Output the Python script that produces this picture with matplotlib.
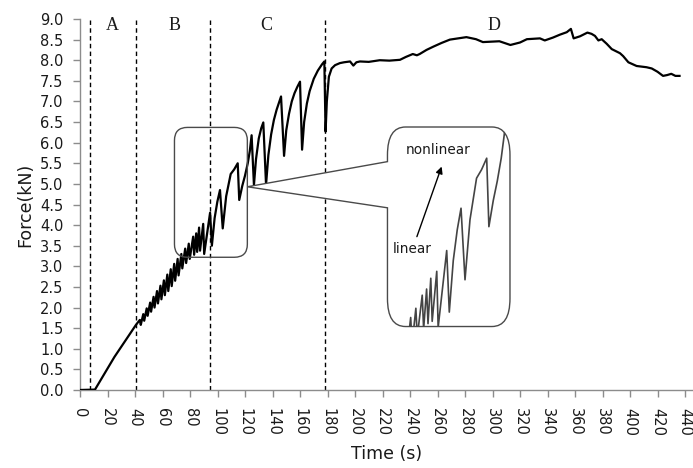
import numpy as np
import matplotlib
matplotlib.use('Agg')
import matplotlib.pyplot as plt
from matplotlib.path import Path
from matplotlib.patches import PathPatch

# ---------------- data ----------------
# Region A: idle, then linear ramp
time_A = [0.0, 10.9, 25.0, 40.7]
force_A = [0.0, 0.01, 0.80, 1.58]

# Region B: small load/unload cycles (peak, trough alternating)
time_B = [43.5, 44.2, 46.0, 46.7, 48.5, 49.2, 51.0, 51.7, 53.5, 54.2,
          56.0, 56.7, 58.5, 59.2, 61.0, 61.7, 63.5, 64.2, 66.0, 66.7,
          68.5, 69.2, 71.0, 71.7, 73.7, 74.4, 76.5, 77.2, 79.1, 79.8,
          82.3, 83.0, 84.5, 85.2, 86.6, 87.3, 89.6, 90.3, 94.6, 95.9]
force_B = [1.70, 1.58, 1.84, 1.68, 1.98, 1.80, 2.12, 1.90, 2.26, 2.00,
           2.40, 2.10, 2.53, 2.20, 2.66, 2.30, 2.80, 2.40, 2.93, 2.52,
           3.06, 2.65, 3.18, 2.78, 3.30, 2.95, 3.43, 3.08, 3.55, 3.18,
           3.72, 3.28, 3.80, 3.35, 3.94, 3.38, 4.03, 3.30, 4.30, 3.50]

# Region C: large load/unload cycles
time_C = [97.9, 99.9, 101.8, 103.8, 106.3, 109.6, 112.1, 114.7, 115.8,
          118.0, 120.0, 122.0, 123.5, 124.8, 126.5, 128.0, 130.0, 131.8,
          133.3, 135.3, 137.0, 139.0, 141.0, 143.0, 145.0, 146.2, 148.4,
          150.0, 152.0, 154.0, 156.0, 158.0, 160.0, 161.5, 163.0, 165.0,
          167.0, 170.0, 173.0, 176.0, 177.7, 178.6]
force_C = [4.17, 4.57, 4.85, 3.92, 4.70, 5.24, 5.35, 5.50, 4.61,
           4.95, 5.20, 5.50, 5.80, 6.18, 4.97, 5.60, 6.10, 6.35,
           6.49, 4.98, 5.70, 6.20, 6.55, 6.80, 7.00, 7.12, 5.68,
           6.30, 6.70, 7.00, 7.20, 7.35, 7.48, 5.83, 6.50, 6.95,
           7.25, 7.55, 7.75, 7.90, 7.97, 6.27]

# Region D: plateau
time_D = [179.5, 181.0, 183.0, 185.5, 189.0, 192.0, 196.4, 198.8, 201.0,
          203.6, 210.0, 218.0, 225.0, 232.7, 237.0, 242.0, 245.0, 247.0,
          252.0, 257.0, 263.0, 269.0, 275.0, 281.0, 288.0, 293.0, 299.0,
          305.0, 313.0, 320.0, 325.0, 334.5, 338.0, 344.0, 349.0, 354.0,
          357.0, 359.0, 363.6, 369.0, 372.0, 374.5, 377.0, 379.4, 383.0,
          386.7, 392.7, 395.0, 398.8, 404.8, 412.0, 415.8, 420.0, 424.0,
          427.0, 430.0, 433.0, 436.0]
force_D = [7.00, 7.60, 7.80, 7.88, 7.93, 7.95, 7.97, 7.87, 7.95,
           7.97, 7.96, 8.00, 7.99, 8.01, 8.08, 8.15, 8.12, 8.15,
           8.25, 8.33, 8.42, 8.50, 8.53, 8.56, 8.51, 8.44, 8.45,
           8.46, 8.37, 8.43, 8.51, 8.53, 8.48, 8.55, 8.62, 8.68,
           8.76, 8.53, 8.58, 8.67, 8.64, 8.59, 8.48, 8.51, 8.40,
           8.27, 8.17, 8.10, 7.95, 7.86, 7.83, 7.80, 7.72, 7.62,
           7.64, 7.67, 7.62, 7.62]

stage_bounds = [7.5, 40.7, 94.5, 178.0]
stage_labels = ['A', 'B', 'C', 'D']
stage_label_x = [23.7, 68.4, 135.8, 301.0]

x_ticks = list(range(0, 441, 20))
y_ticks = [i * 0.5 for i in range(19)]

time = np.array(time_A + time_B + time_C + time_D)
force = np.array(force_A + force_B + force_C + force_D)

# ---------------- figure ----------------
W, H = 693, 468
fig = plt.figure(figsize=(W / 100, H / 100), dpi=100)
ax = fig.add_axes([80 / W, 1 - 390 / H, (W - 80) / W, (390 - 19) / H])
ax.set_xlim(0, 445.8)
ax.set_ylim(0, 9.0)

gray = '#8c8c8c'
for s in ['top', 'right']:
    ax.spines[s].set_visible(False)
for s in ['left', 'bottom']:
    ax.spines[s].set_color(gray)
    ax.spines[s].set_linewidth(1.0)

ax.set_xticks(x_ticks)
ax.set_yticks(y_ticks)
ax.set_yticklabels(['%.1f' % v for v in y_ticks])
ax.set_xticklabels([str(v) for v in x_ticks], rotation=-90)
ax.tick_params(axis='both', colors=gray, labelcolor='#1a1a1a',
               labelsize=10.5, length=5, width=1.0, direction='out')
ax.tick_params(axis='y', pad=7)
ax.tick_params(axis='x', pad=8)
for lab in ax.get_xticklabels():
    lab.set_verticalalignment('top')

ax.set_xlabel('Time (s)', fontsize=12.5, color='#1a1a1a', labelpad=6)
ax.set_ylabel('Force(kN)', fontsize=12.5, color='#1a1a1a', labelpad=4)

# main curve
ax.plot(time, force, color='black', lw=1.6, zorder=3, solid_joinstyle='round')

# stage boundaries
for xb in stage_bounds:
    ax.axvline(xb, color='black', lw=1.0, ls=(0, (3.2, 2.4)), zorder=2)
for lab, xl in zip(stage_labels, stage_label_x):
    ax.text(xl, 8.84, lab, ha='center', va='center', fontsize=13,
            family='Liberation Serif', color='#1a1a1a')


def rounded_path(x0, y0, x1, y1, rx, ry, gap=None, tip=None):
    verts = [(x0, y1 - ry)]
    codes = [Path.MOVETO]
    if gap is not None:
        verts += [(x0, gap[1]), tip, (x0, gap[0])]
        codes += [Path.LINETO] * 3
    verts += [(x0, y0 + ry), (x0, y0), (x0 + rx, y0),
              (x1 - rx, y0), (x1, y0), (x1, y0 + ry),
              (x1, y1 - ry), (x1, y1), (x1 - rx, y1),
              (x0 + rx, y1), (x0, y1), (x0, y1 - ry),
              (x0, y1 - ry)]
    codes += [Path.LINETO, Path.CURVE3, Path.CURVE3,
              Path.LINETO, Path.CURVE3, Path.CURVE3,
              Path.LINETO, Path.CURVE3, Path.CURVE3,
              Path.LINETO, Path.CURVE3, Path.CURVE3,
              Path.CLOSEPOLY]
    return Path(verts, codes)


px_x = 1.375   # pixels per second
px_y = 41.2    # pixels per kN
box_col = '#4a4a4a'

# small window around the transition
small = rounded_path(68.7, 3.22, 121.7, 6.37, 13 / px_x, 13 / px_y)
ax.add_patch(PathPatch(small, fill=False, ec=box_col, lw=1.0, zorder=4))

# callout with magnified view
tip = (121.7, 4.93)
callout = rounded_path(223.6, 1.54, 312.7, 6.38, 18 / px_x, 28 / px_y,
                       gap=(4.42, 5.54), tip=tip)
cpatch = PathPatch(callout, fc='white', ec=box_col, lw=1.0, zorder=4)
ax.add_patch(cpatch)

# magnified curve: linear map of the window onto the callout
src_t0, src_f0 = 101.8, 4.85
dst_t0, dst_f0 = 277.1, 4.41
sx, sy = 1.447, 1.867
sel = (time >= 60) & (time <= 125.0)
mt = dst_t0 + (time[sel] - src_t0) * sx
mf = dst_f0 + (force[sel] - src_f0) * sy
mline, = ax.plot(mt, mf, color='#444444', lw=1.2, zorder=5)
mline.set_clip_path(cpatch)

ax.annotate('', xy=(263.0, 5.42), xytext=(245.0, 3.72),
            arrowprops=dict(arrowstyle='-|>', color='black', lw=1.0,
                            mutation_scale=10, shrinkA=0, shrinkB=0),
            zorder=6)
ax.text(260.6, 5.81, 'nonlinear', ha='center', va='center', fontsize=9.8,
        color='#1a1a1a', zorder=6)
ax.text(241.7, 3.42, 'linear', ha='center', va='center', fontsize=9.8,
        color='#1a1a1a', zorder=6)

fig.savefig('out.png', dpi=100)
